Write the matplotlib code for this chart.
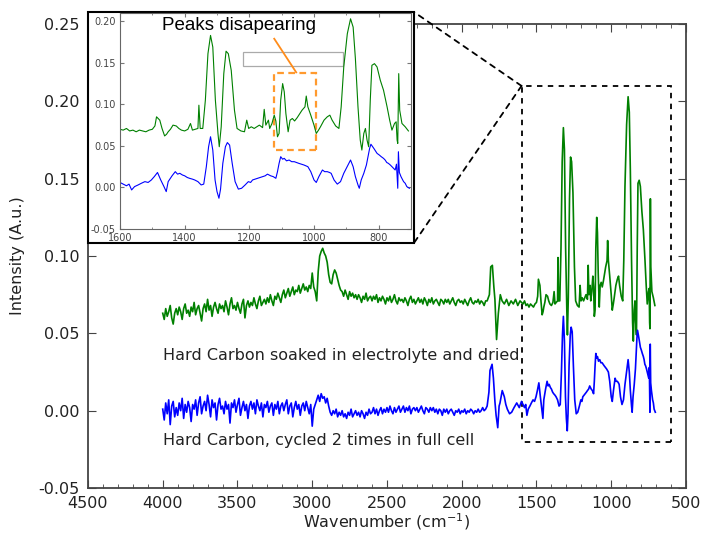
import numpy as np
import matplotlib
matplotlib.use("Agg")
import matplotlib.pyplot as plt
from matplotlib.patches import Rectangle, ConnectionPatch
from matplotlib.lines import Line2D
from matplotlib.ticker import MultipleLocator, FormatStrFormatter

# ---------------- data ----------------
# uniformly sampled noisy part (4000 -> 1840 cm-1, step 10)
wn_noisy = np.arange(4000, 1839, -10)
green_noisy = [
    0.063, 0.059, 0.066, 0.061, 0.064, 0.068, 0.060, 0.056, 0.063, 0.066,
    0.062, 0.067, 0.064, 0.059, 0.066, 0.069, 0.063, 0.065, 0.061, 0.067,
    0.064, 0.070, 0.062, 0.066, 0.068, 0.063, 0.058, 0.066, 0.069, 0.064,
    0.072, 0.065, 0.068, 0.061, 0.067, 0.070, 0.066, 0.063, 0.069, 0.066,
    0.068, 0.064, 0.071, 0.067, 0.062, 0.069, 0.073, 0.066, 0.068, 0.065,
    0.070, 0.066, 0.063, 0.069, 0.072, 0.060, 0.068, 0.071, 0.067, 0.070,
    0.068, 0.073, 0.069, 0.066, 0.071, 0.074, 0.068, 0.070, 0.072, 0.069,
    0.073, 0.070, 0.075, 0.071, 0.068, 0.074, 0.072, 0.076, 0.073, 0.070,
    0.075, 0.078, 0.073, 0.076, 0.079, 0.074, 0.077, 0.080, 0.075, 0.078,
    0.077, 0.081, 0.076, 0.079, 0.082, 0.078, 0.080, 0.077, 0.081, 0.079,
    0.089, 0.080, 0.077, 0.071, 0.090, 0.100, 0.103, 0.105, 0.102, 0.100,
    0.096, 0.088, 0.083, 0.082, 0.088, 0.091, 0.089, 0.085, 0.081, 0.078,
    0.077, 0.074, 0.078, 0.075, 0.072, 0.077, 0.074, 0.076, 0.073, 0.075,
    0.072, 0.075, 0.073, 0.070, 0.074, 0.072, 0.076, 0.071, 0.073, 0.074,
    0.071, 0.074, 0.072, 0.075, 0.070, 0.073, 0.071, 0.074, 0.072, 0.069,
    0.073, 0.071, 0.074, 0.070, 0.072, 0.075, 0.071, 0.069, 0.073, 0.071,
    0.072, 0.070, 0.073, 0.071, 0.068, 0.072, 0.074, 0.070, 0.072, 0.069,
    0.071, 0.073, 0.070, 0.072, 0.069, 0.073, 0.071, 0.068, 0.072, 0.070,
    0.073, 0.069, 0.071, 0.072, 0.070, 0.068, 0.072, 0.071, 0.069, 0.072,
    0.070, 0.072, 0.069, 0.071, 0.073, 0.070, 0.068, 0.071, 0.072, 0.070,
    0.071, 0.069, 0.072, 0.070, 0.068, 0.071, 0.073, 0.070, 0.069, 0.071,
    0.070, 0.072, 0.069, 0.071, 0.070, 0.068, 0.071,
]
blue_noisy = [
    0.001, -0.006, 0.005, -0.002, 0.007, -0.009, 0.003, 0.006, -0.004, 0.002,
    -0.003, 0.005, 0.000, 0.008, -0.005, 0.004, -0.001, 0.006, 0.002, -0.007,
    0.004, 0.001, 0.007, -0.003, 0.005, 0.009, -0.002, 0.003, 0.006, 0.000,
    0.010, 0.004, -0.004, 0.007, 0.002, 0.005, -0.006, 0.004, 0.008, 0.001,
    0.003, -0.002, 0.006, 0.001, 0.004, -0.008, 0.005, 0.002, 0.007, -0.001,
    0.004, 0.008, -0.003, 0.002, 0.006, 0.000, 0.004, -0.005, 0.003, 0.006,
    0.001, 0.005, -0.002, 0.007, 0.003, 0.000, 0.005, -0.004, 0.004, 0.002,
    0.006, -0.001, 0.003, 0.005, -0.003, 0.004, 0.001, 0.006, -0.002, 0.003,
    0.005, 0.000, 0.004, 0.007, -0.002, 0.003, 0.005, -0.004, 0.002, 0.006,
    0.001, 0.004, -0.003, 0.003, 0.005, 0.000, 0.006, 0.002, -0.002, 0.004,
    -0.010, 0.001, 0.004, 0.007, 0.010, 0.006, 0.011, 0.008, 0.009, 0.005,
    0.008, 0.003, -0.001, -0.003, 0.000, -0.002, 0.001, -0.004, -0.001, -0.003,
    0.000, -0.004, -0.002, -0.005, -0.001, -0.003, 0.001, -0.004, -0.002, 0.000,
    -0.003, -0.001, -0.004, 0.000, -0.002, -0.005, -0.001, -0.003, 0.001, -0.002,
    -0.001, 0.002, -0.002, 0.001, -0.003, 0.000, 0.002, -0.002, 0.001, -0.001,
    0.002, -0.001, 0.003, 0.000, -0.002, 0.002, -0.001, 0.001, 0.003, -0.001,
    0.001, 0.003, -0.001, 0.002, 0.000, 0.003, -0.002, 0.001, 0.002, 0.000,
    0.002, -0.001, 0.001, 0.003, 0.000, -0.002, 0.002, 0.001, -0.001, 0.002,
    0.000, 0.002, -0.001, 0.001, -0.002, 0.001, 0.000, -0.003, 0.001, -0.001,
    0.001, -0.002, 0.000, 0.001, -0.001, -0.003, 0.000, -0.001, 0.001, -0.002,
    0.000, -0.001, 0.001, -0.002, 0.000, -0.001, 0.001, 0.000, -0.002, 0.000,
    -0.001, 0.001, -0.001, 0.000, 0.002, 0.000, 0.001,
]

# detailed part, green (soaked in electrolyte and dried)
green_wn = [1830, 1815, 1806, 1795, 1785, 1778, 1767, 1755, 1742, 1730, 1715, 1700,
            1685, 1670, 1655, 1640, 1625, 1610,
            1600, 1590, 1580, 1570, 1560, 1550, 1540, 1530, 1520, 1510, 1500, 1492,
            1487, 1482, 1477, 1470, 1462, 1456, 1451, 1444, 1436, 1426, 1418, 1410,
            1400, 1390, 1382, 1376, 1368, 1359, 1356, 1352, 1344, 1336, 1328, 1320,
            1313, 1305, 1297, 1293, 1287, 1279, 1272, 1265, 1256, 1246, 1238, 1226,
            1215, 1208, 1202, 1194, 1185, 1177, 1169, 1159, 1154, 1149, 1141, 1137,
            1130, 1123, 1118, 1113, 1108, 1103, 1097, 1092, 1087, 1080, 1074, 1067,
            1060, 1052, 1047, 1037, 1028, 1024, 1019, 1010, 1000, 993, 986, 980,
            969, 959, 951, 944, 933, 923, 916, 908, 897, 887, 879, 872,
            864, 857, 852, 846, 841, 836, 831, 826, 821, 813, 805, 795,
            785, 774, 766, 759, 751, 746, 743, 741, 738, 735, 728, 718, 708]
green_val = [0.071, 0.075, 0.093, 0.094, 0.080, 0.072, 0.046, 0.063, 0.075, 0.071, 0.069, 0.072,
             0.068, 0.071, 0.069, 0.072, 0.068, 0.071,
             0.070, 0.069, 0.071, 0.068, 0.069, 0.067, 0.069, 0.068, 0.067, 0.069, 0.070, 0.074,
             0.085, 0.083, 0.081, 0.071, 0.062, 0.064, 0.067, 0.070, 0.075, 0.074, 0.071, 0.069,
             0.068, 0.070, 0.077, 0.069, 0.070, 0.071, 0.099, 0.071, 0.071, 0.105, 0.161, 0.183,
             0.169, 0.105, 0.065, 0.049, 0.073, 0.137, 0.164, 0.161, 0.141, 0.093, 0.071, 0.068,
             0.067, 0.081, 0.071, 0.073, 0.071, 0.073, 0.075, 0.072, 0.094, 0.075, 0.081, 0.071,
             0.077, 0.087, 0.080, 0.061, 0.065, 0.105, 0.125, 0.115, 0.089, 0.067, 0.081, 0.083,
             0.080, 0.084, 0.087, 0.093, 0.097, 0.110, 0.097, 0.087, 0.075, 0.065, 0.069, 0.073,
             0.081, 0.085, 0.087, 0.081, 0.074, 0.071, 0.097, 0.145, 0.185, 0.203, 0.193, 0.155,
             0.097, 0.057, 0.045, 0.065, 0.071, 0.057, 0.049, 0.105, 0.147, 0.149, 0.145, 0.129,
             0.117, 0.097, 0.081, 0.069, 0.077, 0.079, 0.057, 0.053, 0.137, 0.093, 0.077, 0.073, 0.068]

# detailed part, blue (cycled 2 times in full cell)
blue_wn = [1830, 1818, 1811, 1797, 1788, 1778, 1770, 1759, 1750, 1744, 1729, 1715,
           1705, 1695, 1680, 1666, 1650, 1632, 1615,
           1600, 1590, 1580, 1572, 1564, 1555, 1544, 1534, 1523, 1513, 1503, 1494,
           1484, 1474, 1464, 1457, 1451, 1439, 1429, 1422, 1415, 1407, 1400, 1392,
           1385, 1376, 1369, 1359, 1349, 1341, 1333, 1326, 1320, 1313, 1306, 1300,
           1294, 1289, 1282, 1274, 1268, 1261, 1253, 1244, 1234, 1224, 1213, 1203,
           1196, 1190, 1182, 1174, 1166, 1159, 1151, 1144, 1134, 1126, 1118, 1113,
           1108, 1103, 1097, 1092, 1085, 1077, 1069, 1061, 1054, 1047, 1039, 1031,
           1025, 1019, 1010, 1000, 993, 985, 974, 967, 959, 952, 947, 938,
           928, 918, 908, 895, 887, 879, 872, 864, 860, 854, 846, 838,
           828, 824, 815, 805, 798, 792, 785, 780, 775, 770, 764, 759,
           754, 749, 745, 741, 739, 736, 731, 723, 718, 713, 705]
blue_val = [0.003, 0.012, 0.026, 0.030, 0.021, 0.006, -0.003, -0.011, 0.003, 0.005, 0.013, 0.009,
            0.004, 0.001, -0.002, -0.001, 0.002, 0.005, 0.002,
            0.006, 0.004, 0.002, 0.004, -0.003, 0.001, 0.003, 0.005, 0.007, 0.006, 0.009, 0.013,
            0.018, 0.009, 0.001, -0.005, 0.007, 0.014, 0.019, 0.016, 0.017, 0.015, 0.014, 0.012,
            0.011, 0.010, 0.009, 0.007, 0.003, 0.004, 0.025, 0.049, 0.061, 0.045, 0.009, -0.005,
            -0.013, -0.002, 0.029, 0.049, 0.054, 0.051, 0.029, 0.007, -0.002, -0.001, 0.003, 0.007,
            0.006, 0.009, 0.010, 0.011, 0.012, 0.013, 0.014, 0.016, 0.014, 0.013, 0.011, 0.019,
            0.029, 0.037, 0.034, 0.035, 0.032, 0.033, 0.031, 0.031, 0.030, 0.029, 0.028, 0.027,
            0.026, 0.025, 0.019, 0.009, 0.006, 0.013, 0.021, 0.019, 0.019, 0.018, 0.017, 0.009,
            0.004, 0.007, 0.017, 0.027, 0.033, 0.025, 0.013, 0.003, -0.001, 0.009, 0.017, 0.027,
            0.047, 0.052, 0.047, 0.041, 0.039, 0.037, 0.035, 0.033, 0.030, 0.029, 0.027, 0.025,
            0.023, 0.021, 0.028, -0.001, 0.043, 0.018, 0.013, 0.007, 0.005, 0.001, -0.001]

wn_green = np.concatenate([wn_noisy, green_wn])
int_green = np.concatenate([green_noisy, green_val])
wn_blue = np.concatenate([wn_noisy, blue_wn])
int_blue = np.concatenate([blue_noisy, blue_val])

label_green = "Hard Carbon soaked in electrolyte and dried"
label_blue = "Hard Carbon, cycled 2 times in full cell"
annotation = "Peaks disapearing"

# ---------------- figure ----------------
plt.rcParams['font.family'] = ['DejaVu Sans']
plt.rcParams['mathtext.fontset'] = 'dejavusans'
fig = plt.figure(figsize=(7.05, 5.34), dpi=100)
fs = 11.5
spine_col = '#444444'

ax = fig.add_axes([0.1248, 0.0861, 0.8482, 0.8689])
ax.set_zorder(0)
ax.plot(wn_green, int_green, color='green', lw=1.2)
ax.plot(wn_blue, int_blue, color='blue', lw=1.2)
ax.set_xlim(4500, 500)
ax.set_ylim(-0.05, 0.25)
ax.xaxis.set_major_locator(MultipleLocator(500))
ax.xaxis.set_minor_locator(MultipleLocator(100))
ax.yaxis.set_major_locator(MultipleLocator(0.05))
ax.yaxis.set_major_formatter(FormatStrFormatter('%.2f'))
ax.tick_params(which='both', direction='in', top=True, right=True, labelsize=fs,
               color=spine_col, labelcolor='#222222', pad=6)
ax.tick_params(which='major', length=6)
ax.tick_params(which='minor', length=3)
for s in ax.spines.values():
    s.set_color(spine_col)
    s.set_linewidth(1.3)
ax.set_xlabel('Wavenumber (cm$^{-1}$)', fontsize=fs, color='#222222', labelpad=0)
ax.set_ylabel('Intensity (A.u.)', fontsize=fs, color='#222222', labelpad=10)

ax.text(4000, 0.036, label_green, fontsize=fs, color='#222222', va='center', ha='left')
ax.text(4000, -0.019, label_blue, fontsize=fs, color='#222222', va='center', ha='left')

# zoom rectangle in main axes
ax.add_patch(Rectangle((600, -0.02), 1000, 0.23, fill=False, ls=(0, (3, 3)),
                       lw=1.3, ec='black'))

# frame behind the inset
frame = Rectangle((0.1248, 0.545), 0.4624, 0.4325, transform=fig.transFigure,
                  facecolor='white', edgecolor='black', lw=1.5, zorder=1)
fig.add_artist(frame)

# inset
axin = fig.add_axes([0.1702, 0.5712, 0.4128, 0.4045])
axin.set_zorder(2)
axin.plot(wn_green, int_green, color='green', lw=0.8)
axin.plot(wn_blue, int_blue, color='blue', lw=0.8)
axin.set_xlim(1600, 700)
axin.set_ylim(-0.05, 0.21)
axin.xaxis.set_major_locator(MultipleLocator(200))
axin.xaxis.set_minor_locator(MultipleLocator(100))
axin.yaxis.set_major_locator(MultipleLocator(0.05))
axin.yaxis.set_major_formatter(FormatStrFormatter('%.2f'))
axin.tick_params(which='both', direction='in', top=True, right=True, labelsize=7,
                 color='#777777', labelcolor='#444444', pad=3)
axin.tick_params(which='major', length=3)
axin.tick_params(which='minor', length=1.5)
for s in axin.spines.values():
    s.set_color('#666666')
    s.set_linewidth(0.8)

axin.add_patch(Rectangle((910, 0.146), 310, 0.017, fill=False, ec='#aaaaaa', lw=0.9))
axin.add_patch(Rectangle((995, 0.045), 130, 0.093, fill=False, ec='#ff9a2e', lw=1.6,
                         ls=(0, (3, 2))))
axin.add_line(Line2D([1123, 1055], [0.179, 0.1385], color='#ff8c1a', lw=1.3))
axin.text(1232, 0.1955, annotation, fontsize=13.5, family=['Liberation Sans', 'DejaVu Sans'],
          ha='center', va='center', color='black')

# connector lines
for yfig in (0.9775, 0.545):
    con = ConnectionPatch(xyA=(1600, 0.21), coordsA=ax.transData,
                          xyB=(0.5872, yfig), coordsB=fig.transFigure,
                          ls=(0, (3, 3)), lw=1.3, color='black', zorder=3)
    fig.add_artist(con)

fig.savefig('out.png', dpi=100)
